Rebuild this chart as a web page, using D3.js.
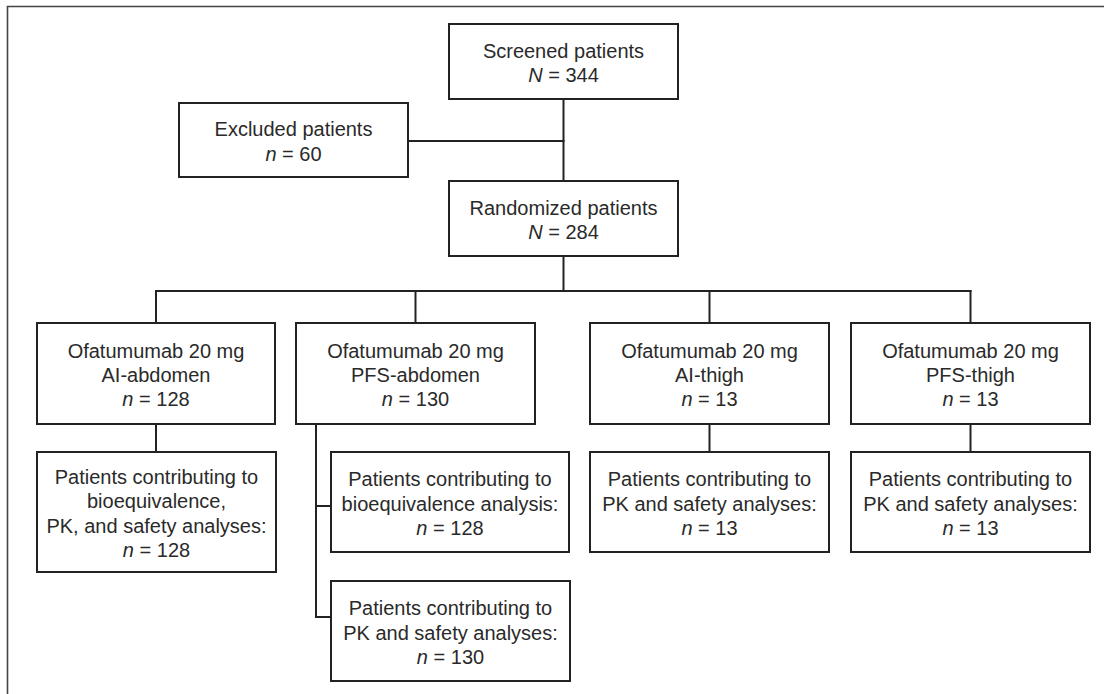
<!DOCTYPE html>
<html>
<head>
<meta charset="utf-8">
<script src="https://cdn.jsdelivr.net/npm/d3@7"></script>
<style>
  html, body { margin: 0; padding: 0; background: #fff; }
  svg { display: block; }
  text { font-family: "Liberation Sans", Arial, sans-serif; font-size: 20px; fill: #2a2a2a; }
</style>
</head>
<body>
<svg id="chart" width="1104" height="694"></svg>
<script>
// ---- Data: node ids, text lines, counts ----
const nodeIds = ["screened", "excluded", "randomized", "g1", "g2", "g3", "g4", "s1", "s2a", "s2b", "s3", "s4"];
const nodeLines = [
  ["Screened patients"],
  ["Excluded patients"],
  ["Randomized patients"],
  ["Ofatumumab 20 mg", "AI-abdomen"],
  ["Ofatumumab 20 mg", "PFS-abdomen"],
  ["Ofatumumab 20 mg", "AI-thigh"],
  ["Ofatumumab 20 mg", "PFS-thigh"],
  ["Patients contributing to", "bioequivalence,", "PK, and safety analyses:"],
  ["Patients contributing to", "bioequivalence analysis:"],
  ["Patients contributing to", "PK and safety analyses:"],
  ["Patients contributing to", "PK and safety analyses:"],
  ["Patients contributing to", "PK and safety analyses:"]
];
const countSymbols = ["N", "n", "N", "n", "n", "n", "n", "n", "n", "n", "n", "n"];
const countValues = [344, 60, 284, 128, 130, 13, 13, 128, 128, 130, 13, 13];

// ---- Layout (positions kept separate from data) ----
const layout = {
  screened:   { x: 449, y: 24,  w: 229, h: 75 },
  excluded:   { x: 179, y: 103, w: 229, h: 74 },
  randomized: { x: 449, y: 181, w: 229, h: 75 },
  g1:  { x: 37,  y: 323, w: 238, h: 101 },
  g2:  { x: 296, y: 323, w: 239, h: 101 },
  g3:  { x: 590, y: 323, w: 239, h: 101 },
  g4:  { x: 851, y: 323, w: 239, h: 101 },
  s1:  { x: 37,  y: 452, w: 239, h: 120 },
  s2a: { x: 331, y: 452, w: 238, h: 100 },
  s2b: { x: 331, y: 581, w: 239, h: 100 },
  s3:  { x: 590, y: 452, w: 239, h: 100 },
  s4:  { x: 851, y: 452, w: 239, h: 100 }
};
const branchY = 291, excludedY = 141, stubX = 316, stubYs = [506, 617];

const nodes = nodeIds.map((id, i) => ({
  id, lines: nodeLines[i], sym: countSymbols[i], val: countValues[i], ...layout[id]
}));
const byId = Object.fromEntries(nodes.map(n => [n.id, n]));
const cx = n => n.x + n.w / 2;

const svg = d3.select("#chart");
const ink = "#222";

// outer frame (top and left visible)
svg.append("path")
  .attr("d", d3.line()([[1104, 6.5], [7.5, 6.5], [7.5, 694]]))
  .attr("fill", "none").attr("stroke", "#444").attr("stroke-width", 1.6);

// connectors
const seg = [];
const S = byId.screened, E = byId.excluded, R = byId.randomized;
seg.push([[cx(S), S.y + S.h], [cx(S), R.y]]);
seg.push([[E.x + E.w, excludedY], [cx(S), excludedY]]);
seg.push([[cx(R), R.y + R.h], [cx(R), branchY]]);
const groups = ["g1", "g2", "g3", "g4"].map(k => byId[k]);
seg.push([[cx(groups[0]), branchY], [cx(groups[3]), branchY]]);
groups.forEach(g => seg.push([[cx(g), branchY], [cx(g), g.y]]));
[["g1", "s1"], ["g3", "s3"], ["g4", "s4"]].forEach(([a, b]) => {
  seg.push([[cx(byId[a]), byId[a].y + byId[a].h], [cx(byId[a]), byId[b].y]]);
});
const G2 = byId.g2;
seg.push([[stubX, G2.y + G2.h], [stubX, stubYs[1]], [byId.s2b.x, stubYs[1]]]);
seg.push([[stubX, stubYs[0]], [byId.s2a.x, stubYs[0]]]);

svg.append("g").selectAll("path").data(seg).join("path")
  .attr("d", d => d3.line()(d))
  .attr("fill", "none").attr("stroke", ink).attr("stroke-width", 2)
  .attr("stroke-linecap", "square");

// boxes
const box = svg.append("g").selectAll("g").data(nodes).join("g");
box.append("rect")
  .attr("x", d => d.x).attr("y", d => d.y)
  .attr("width", d => d.w).attr("height", d => d.h)
  .attr("fill", "#fff").attr("stroke", ink).attr("stroke-width", 2);

const lh = 24.2;
box.each(function(d) {
  const g = d3.select(this);
  const k = d.lines.length + 1;
  const cy = d.y + d.h / 2;
  const base = i => cy + (i - (k - 1) / 2) * lh + 8.5;
  d.lines.forEach((t, i) => {
    g.append("text").attr("x", cx(d)).attr("y", base(i))
      .attr("text-anchor", "middle").text(t);
  });
  const t = g.append("text").attr("x", cx(d)).attr("y", base(k - 1))
    .attr("text-anchor", "middle");
  t.append("tspan").attr("font-style", "italic").text(d.sym);
  t.append("tspan").text(" = " + d.val);
});
</script>
</body>
</html>
